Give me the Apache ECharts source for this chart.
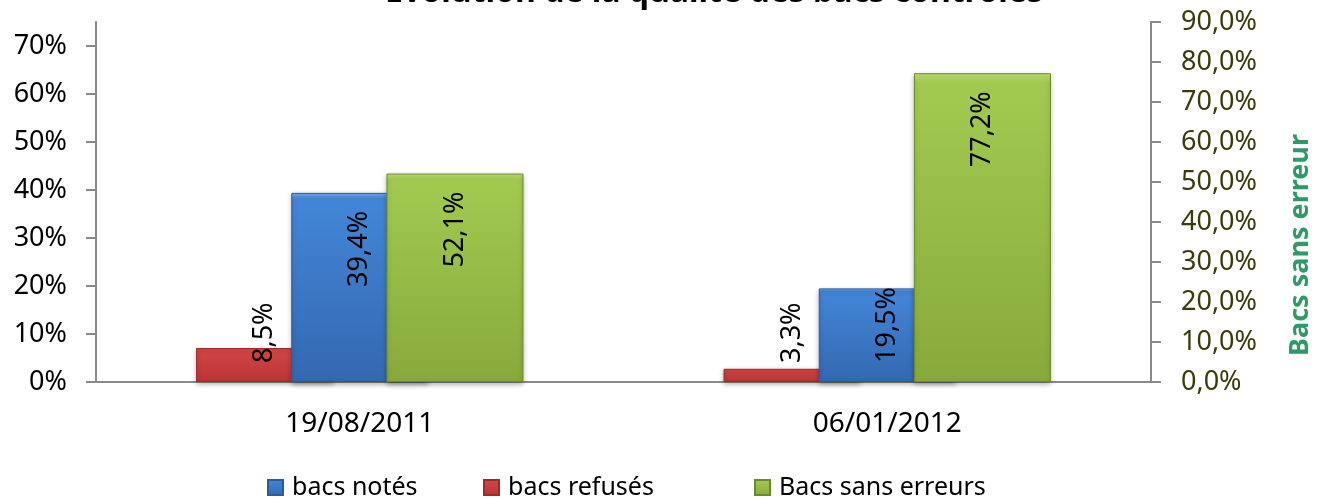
<!DOCTYPE html>
<html>
<head>
<meta charset="utf-8">
<script src="https://cdn.jsdelivr.net/npm/echarts@6/dist/echarts.min.js"></script>
<style>
  html, body { margin: 0; padding: 0; background: #fff; }
  #chart { width: 1321px; height: 499px; }
</style>
</head>
<body>
<div id="chart"></div>
<script>
// données (en %)
var categories = ['19/08/2011', '06/01/2012'];
var bacsNotes = [39.4, 19.5];
var bacsRefuses = [8.5, 3.3];
var bacsSansErreurs = [52.1, 77.2];
var leftTicks = [0, 10, 20, 30, 40, 50, 60, 70];

var font = 'Noto Sans';

function pct1(v) {
  return v.toFixed(1).replace('.', ',') + '%';
}

function grad(top, body, bottom) {
  return new echarts.graphic.LinearGradient(0, 0, 0, 1, [
    { offset: 0, color: top },
    { offset: 0.03, color: body },
    { offset: 1, color: bottom }
  ]);
}

var blue = grad('#7ab0f0', '#4386d8', '#3468b0');
var red = grad('#f58080', '#d44646', '#b83434');
var green = grad('#c4e47a', '#a2ca50', '#88aa3c');

var barLabel = {
  show: true,
  position: 'insideTop',
  rotate: 90,
  align: 'right',
  verticalAlign: 'middle',
  distance: 18,
  color: '#000',
  fontFamily: font,
  fontSize: 27,
  formatter: function (p) { return pct1(p.value); }
};

var chartDom = document.getElementById('chart');
var myChart = echarts.init(chartDom);
var option;

function legendAt(name, left) {
  return {
    data: [name],
    left: left,
    top: 470,
    itemWidth: 15,
    itemHeight: 15,
    icon: 'rect',
    textStyle: { fontFamily: font, fontSize: 25, color: '#000', padding: [0, 0, 0, 4] }
  };
}

option = {
  animation: false,
  backgroundColor: '#fff',
  title: {
    text: 'Evolution de la qualité des bacs contrôlés',
    left: 709,
    top: -28,
    textAlign: 'center',
    textStyle: { fontFamily: font, fontSize: 32, fontWeight: 'bold', color: '#000' }
  },
  legend: [
    legendAt('bacs notés', 262),
    legendAt('bacs refusés', 478),
    legendAt('Bacs sans erreurs', 749)
  ],
  grid: {
    left: 96,
    right: 170,
    top: 22,
    bottom: 117,
    containLabel: false,
    outerBoundsMode: 'none'
  },
  xAxis: [
    {
      type: 'category',
      data: categories,
      axisLine: { lineStyle: { color: '#8a8a8a', width: 2 } },
      axisTick: { length: 10, lineStyle: { color: '#8a8a8a', width: 2 } },
      axisLabel: { color: '#000', fontFamily: font, fontSize: 28, margin: 28 }
    },
    {
      type: 'category',
      data: categories,
      show: false
    }
  ],
  yAxis: [
    {
      type: 'value',
      min: 0,
      max: 75,
      position: 'left',
      splitLine: { show: false },
      axisLine: { show: true, lineStyle: { color: '#8a8a8a', width: 2 } },
      axisTick: { show: true, length: 10, customValues: leftTicks, lineStyle: { color: '#8a8a8a', width: 2 } },
      axisLabel: {
        customValues: leftTicks,
        color: '#000',
        fontFamily: font,
        fontSize: 27,
        margin: 29,
        formatter: function (v) { return v + '%'; }
      }
    },
    {
      type: 'value',
      min: 0,
      max: 90,
      interval: 10,
      position: 'right',
      name: 'Bacs sans erreur',
      nameLocation: 'middle',
      nameRotate: 90,
      nameGap: 136,
      nameTextStyle: {
        color: '#2f9a68',
        fontFamily: font,
        fontSize: 27,
        fontWeight: 'bold',
        padding: [0, 86, 0, 0]
      },
      splitLine: { show: false },
      axisLine: { show: true, lineStyle: { color: '#8a8a8a', width: 2 } },
      axisTick: { show: true, length: 10, lineStyle: { color: '#8a8a8a', width: 2 } },
      axisLabel: {
        color: '#3c3a0a',
        fontFamily: font,
        fontSize: 27,
        margin: 30,
        formatter: function (v) { return pct1(v); }
      }
    }
  ],
  series: [
    {
      name: 'bacs refusés',
      type: 'bar',
      xAxisIndex: 1,
      yAxisIndex: 1,
      data: bacsRefuses,
      barWidth: 137,
      barGap: '39%',
      itemStyle: { color: red, borderColor: '#9a2c2c', borderWidth: 1, shadowColor: 'rgba(0,0,0,0.3)', shadowBlur: 5, shadowOffsetY: 2 },
      label: barLabel
    },
    {
      name: 'bacs notés',
      type: 'bar',
      xAxisIndex: 0,
      yAxisIndex: 0,
      data: bacsNotes,
      barWidth: 137,
      itemStyle: { color: blue, borderColor: '#2c5a9a', borderWidth: 1, shadowColor: 'rgba(0,0,0,0.3)', shadowBlur: 5, shadowOffsetY: 2 },
      label: barLabel
    },
    {
      name: 'Bacs sans erreurs',
      type: 'bar',
      xAxisIndex: 1,
      yAxisIndex: 1,
      data: bacsSansErreurs,
      barWidth: 137,
      barGap: '39%',
      itemStyle: { color: green, borderColor: '#6a8a2c', borderWidth: 1, shadowColor: 'rgba(0,0,0,0.3)', shadowBlur: 5, shadowOffsetY: 2 },
      label: barLabel
    }
  ]
};

myChart.setOption(option);

// étiquette trop longue pour la barre : on l'accroche en bas (comme Excel)
var ctx = document.createElement('canvas').getContext('2d');
ctx.font = '27px "' + font + '"';
option.series.forEach(function (s) {
  s.data = s.data.map(function (v) {
    var top = myChart.convertToPixel({ yAxisIndex: s.yAxisIndex }, v);
    var base = myChart.convertToPixel({ yAxisIndex: s.yAxisIndex }, 0);
    var len = ctx.measureText(pct1(v)).width;
    if (18 + len > base - top - 19) {
      return { value: v, label: { position: 'insideBottom', align: 'left', distance: 19 } };
    }
    return v;
  });
});
myChart.setOption(option);
</script>
</body>
</html>
